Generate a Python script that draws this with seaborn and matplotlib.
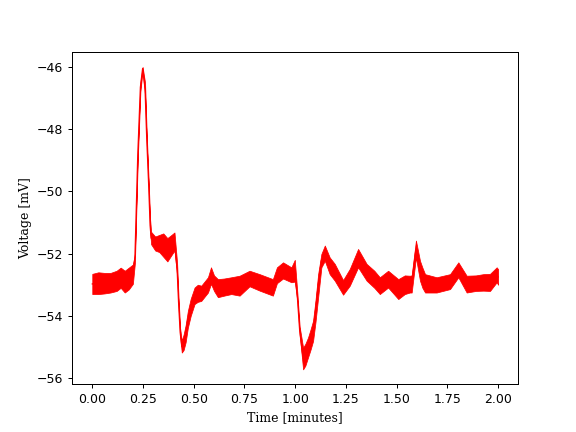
import numpy as np
import pandas as pd
import seaborn as sns
import matplotlib
matplotlib.use("Agg")
import matplotlib.pyplot as plt

# envelope of the noisy voltage trace
time_min = [0.00, 0.03, 0.06, 0.09, 0.12, 0.14, 0.16, 0.18, 0.20, 0.21,
            0.224, 0.237, 0.248, 0.26, 0.268, 0.278, 0.285, 0.29, 0.31, 0.33,
            0.35, 0.37, 0.39, 0.405, 0.418, 0.425, 0.433, 0.441, 0.45, 0.46,
            0.471, 0.485, 0.504, 0.52, 0.537, 0.57, 0.585, 0.60, 0.619, 0.65,
            0.685, 0.726, 0.775, 0.825, 0.89, 0.91, 0.94, 0.981, 0.998, 1.011,
            1.022, 1.039, 1.05, 1.063, 1.075, 1.088, 1.10, 1.113, 1.129, 1.146,
            1.17, 1.195, 1.236, 1.269, 1.31, 1.352, 1.39, 1.417, 1.458, 1.508,
            1.54, 1.565, 1.574, 1.595, 1.605, 1.615, 1.627, 1.64, 1.697, 1.763,
            1.804, 1.845, 1.89, 1.927, 1.96, 1.993, 2.00]
v_low = [-53.30, -53.30, -53.28, -53.25, -53.20, -53.10, -53.25, -53.15, -52.97, -52.30,
         -49.00, -46.80, -46.10, -46.90, -48.40, -49.95, -51.30, -51.70, -51.90, -51.95,
         -52.10, -52.25, -52.05, -51.90, -52.70, -53.70, -54.65, -55.18, -55.10, -54.85,
         -54.38, -54.00, -53.62, -53.55, -53.52, -53.25, -52.97, -53.20, -53.40, -53.35,
         -53.30, -53.35, -53.05, -53.19, -53.35, -52.95, -52.80, -52.92, -52.90, -53.55,
         -54.60, -55.72, -55.60, -55.34, -55.10, -54.81, -54.20, -53.41, -52.44, -52.23,
         -52.66, -52.87, -53.32, -53.03, -52.44, -52.87, -53.10, -53.30, -53.09, -53.46,
         -53.30, -53.25, -53.25, -52.12, -52.50, -52.87, -53.10, -53.25, -53.25, -53.14,
         -52.76, -53.25, -53.20, -53.19, -53.20, -52.92, -53.00]
v_high = [-52.65, -52.60, -52.62, -52.62, -52.55, -52.45, -52.55, -52.45, -52.35, -52.00,
          -48.70, -46.50, -46.00, -46.50, -48.10, -49.70, -50.90, -51.30, -51.45, -51.40,
          -51.35, -51.50, -51.40, -51.32, -52.30, -53.40, -54.40, -54.80, -54.60, -54.30,
          -53.84, -53.45, -53.09, -53.00, -53.03, -52.76, -52.44, -52.70, -52.82, -52.80,
          -52.76, -52.71, -52.55, -52.66, -52.82, -52.44, -52.28, -52.44, -52.20, -53.30,
          -54.35, -55.02, -54.90, -54.70, -54.45, -54.16, -53.50, -52.66, -52.01, -51.74,
          -52.12, -52.33, -52.85, -52.49, -51.85, -52.33, -52.55, -52.76, -52.55, -52.82,
          -52.70, -52.71, -52.70, -51.58, -51.90, -52.23, -52.45, -52.66, -52.76, -52.66,
          -52.28, -52.71, -52.70, -52.66, -52.65, -52.44, -52.50]

df = pd.DataFrame({
    "time": time_min + time_min,
    "voltage": v_low + v_high,
})

fig, ax = plt.subplots(figsize=(6.4, 4.8), dpi=90)
sns.lineplot(data=df, x="time", y="voltage", estimator="mean",
             errorbar=("pi", 100), color="red", linewidth=1.0,
             err_kws={"alpha": 1, "linewidth": 0.6, "edgecolor": "red"}, ax=ax)
ax.set_xlabel("Time [minutes]", family="DejaVu Serif")
ax.set_ylabel("Voltage [mV]", family="DejaVu Serif")
plt.savefig("out.png")
plt.close()
